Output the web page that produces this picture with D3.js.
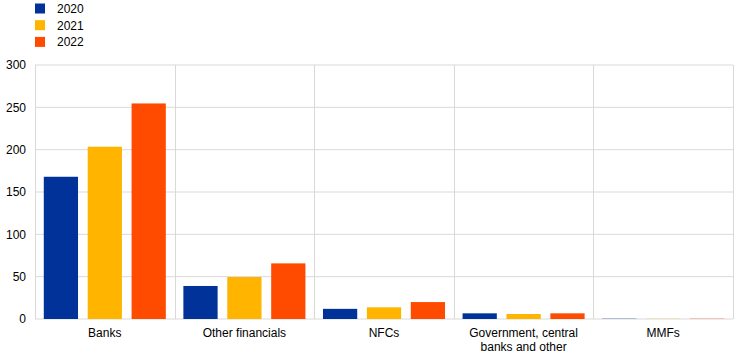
<!doctype html>
<html>
  <head>
    <script src="https://cdnjs.cloudflare.com/ajax/libs/d3/7.8.5/d3.min.js"></script>
  <style>
    body { margin: 0; background: #fff; }
    text { font-family: "Liberation Sans", Arial, sans-serif; font-size: 12px; fill: #000; }
  </style>
  </head>
  <body>
    <svg id="chart" width="744" height="361"></svg>
    <script>
      var categories = ["Banks", "Other financials", "NFCs", "Government, central|banks and other", "MMFs"];
      var years = ["2020", "2021", "2022"];
      var colors = ["#003299", "#ffb400", "#ff4b00"];
      var values2020 = [168, 39, 12, 6.7, 0.3];
      var values2021 = [203.5, 49.6, 13.8, 5.9, 0.2];
      var values2022 = [254.6, 65.7, 20, 6.7, 0.3];
      var yTicks = [0, 50, 100, 150, 200, 250, 300];

      var series = [values2020, values2021, values2022];
      var svg = d3.select("#chart");

      var x = d3.scaleBand().domain(categories).range([35, 733]);
      var inner = d3.scaleBand().domain(years).range([0, x.bandwidth()])
        .paddingInner(0.22).paddingOuter(0.2);
      var y = d3.scaleLinear().domain([0, 300]).range([319, 65]);

      // horizontal gridlines
      svg.append("g").selectAll("line.grid")
        .data(yTicks)
        .enter()
        .append("line")
          .attr("x1", 35).attr("x2", 733)
          .attr("y1", d => y(d)).attr("y2", d => y(d))
          .attr("stroke", "#d9d9d9").attr("stroke-width", 1);

      // category separators
      var seps = categories.map(c => x(c)).concat([x.range()[1]]);
      svg.append("g").selectAll("line.sep")
        .data(seps)
        .enter()
        .append("line")
          .attr("x1", d => Math.round(d) + 0.5).attr("x2", d => Math.round(d) + 0.5)
          .attr("y1", y(300)).attr("y2", y(0))
          .attr("stroke", "#d9d9d9").attr("stroke-width", 1);

      // bars
      series.forEach(function(vals, i) {
        svg.append("g").selectAll("rect")
          .data(vals)
          .enter()
          .append("rect")
            .attr("x", (d, j) => x(categories[j]) + inner(years[i]))
            .attr("width", inner.bandwidth())
            .attr("y", d => y(d))
            .attr("height", d => y(0) - y(d))
            .attr("fill", colors[i]);
      });

      // y axis labels
      var yAxis = d3.axisLeft(y).tickValues(yTicks).tickSize(0).tickPadding(9);
      var yg = svg.append("g").attr("transform", "translate(35,0)").call(yAxis);
      yg.select(".domain").remove();
      yg.selectAll("text").style("font-size", "12px").style("font-family", "'Liberation Sans', Arial, sans-serif");

      // x axis labels
      var xg = svg.append("g");
      categories.forEach(function(c) {
        var lines = c.split("|");
        var t = xg.append("text")
          .attr("x", x(c) + x.bandwidth() / 2)
          .attr("y", 337)
          .attr("text-anchor", "middle");
        lines.forEach(function(l, k) {
          t.append("tspan").attr("x", x(c) + x.bandwidth() / 2).attr("dy", k === 0 ? 0 : 14).text(l);
        });
      });

      // legend
      var lg = svg.append("g");
      years.forEach(function(yr, i) {
        lg.append("rect")
          .attr("x", 35).attr("y", 3.5 + i * 16.7)
          .attr("width", 10).attr("height", 10)
          .attr("fill", colors[i]);
        lg.append("text")
          .attr("x", 57).attr("y", 13 + i * 16.7)
          .text(yr);
      });
    </script>
  </body>
</html>
